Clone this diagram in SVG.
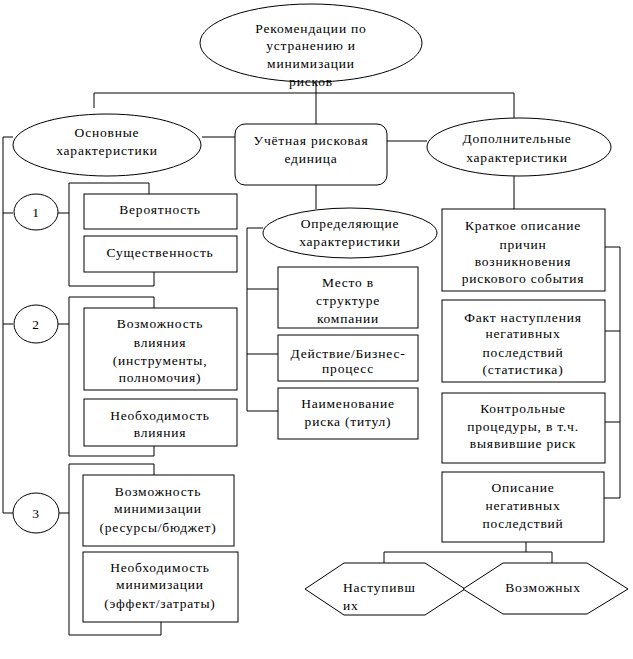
<svg xmlns="http://www.w3.org/2000/svg" width="633" height="659" viewBox="0 0 633 659">
<style>
.s{fill:#fff;stroke:#000;stroke-width:1}
.l{fill:none;stroke:#000;stroke-width:1}
text{font-family:"Liberation Serif","Times New Roman",serif;font-size:13.5px;fill:#000;text-anchor:middle;letter-spacing:0.8px}
.st{text-anchor:start}
</style>
<rect width="633" height="659" fill="#fff"/>
<g id="connectors">
<polyline class="l" points="94,108 94,93 514,93 514,118"/>
<line class="l" x1="316" y1="82" x2="316" y2="124"/>
<line class="l" x1="202" y1="137" x2="235" y2="137"/>
<line class="l" x1="387" y1="141" x2="427" y2="141"/>
<line class="l" x1="316" y1="185" x2="316" y2="209"/>
<line class="l" x1="514" y1="176" x2="514" y2="209"/>
<polyline class="l" points="13,137 3,137 3,513 13,513"/>
<line class="l" x1="3" y1="213" x2="13" y2="213"/>
<line class="l" x1="3" y1="324" x2="13" y2="324"/>
<line class="l" x1="58" y1="213" x2="69" y2="213"/>
<line class="l" x1="58" y1="324" x2="69" y2="324"/>
<line class="l" x1="59" y1="513" x2="69" y2="513"/>
<polyline class="l" points="149,194 149,183 69,183 69,286 154,286 154,272"/>
<polyline class="l" points="154,308 154,297 69,297 69,456 154,456 154,446"/>
<polyline class="l" points="154,475 154,464 69,464 69,635 161,635 161,622"/>
<polyline class="l" points="263,228 247,228 247,411 278,411"/>
<line class="l" x1="247" y1="289" x2="278" y2="289"/>
<line class="l" x1="247" y1="354" x2="278" y2="354"/>
<polyline class="l" points="605,247 620,247 620,498 604,498"/>
<line class="l" x1="605" y1="331" x2="620" y2="331"/>
<line class="l" x1="605" y1="422" x2="620" y2="422"/>
<line class="l" x1="526" y1="542" x2="526" y2="552"/>
<polyline class="l" points="384,563 384,552 552,552 552,563"/>
</g>
<g id="n-top">
<ellipse class="s" cx="311" cy="43" rx="111" ry="39"/>
<text x="311" y="33">Рекомендации по</text>
<text x="311" y="50">устранению и</text>
<text x="311" y="68">минимизации</text>
<text x="311" y="86">рисков</text>
</g>
<g id="n-basic">
<ellipse class="s" cx="107" cy="145" rx="94" ry="31"/>
<text x="107" y="137">Основные</text>
<text x="107" y="155">характеристики</text>
</g>
<g id="n-unit">
<rect class="s" x="235" y="124" width="152" height="61" rx="10"/>
<text x="311" y="145">Учётная рисковая</text>
<text x="311" y="163">единица</text>
</g>
<g id="n-extra">
<ellipse class="s" cx="519" cy="147" rx="92" ry="29"/>
<text x="517" y="143">Дополнительные</text>
<text x="517" y="162">характеристики</text>
</g>
<g id="c1">
<ellipse class="s" cx="36" cy="212" rx="22" ry="18"/>
<text x="36" y="217">1</text>
</g>
<g id="c2">
<ellipse class="s" cx="36" cy="324" rx="22" ry="19"/>
<text x="36" y="329">2</text>
</g>
<g id="c3">
<ellipse class="s" cx="36" cy="513" rx="23" ry="20"/>
<text x="36" y="518">3</text>
</g>
<g id="b-prob">
<rect class="s" x="84" y="194" width="153" height="35"/>
<text x="160" y="214">Вероятность</text>
</g>
<g id="b-sig">
<rect class="s" x="84" y="236" width="153" height="36"/>
<text x="160" y="257">Существенность</text>
</g>
<g id="b-infl">
<rect class="s" x="84" y="308" width="153" height="82"/>
<text x="160" y="328">Возможность</text>
<text x="160" y="347">влияния</text>
<text x="160" y="365">(инструменты,</text>
<text x="160" y="382">полномочия)</text>
</g>
<g id="b-need">
<rect class="s" x="84" y="399" width="153" height="47"/>
<text x="160" y="420">Необходимость</text>
<text x="160" y="437">влияния</text>
</g>
<g id="b-min">
<rect class="s" x="83" y="475" width="151" height="71"/>
<text x="158" y="496">Возможность</text>
<text x="158" y="513">минимизации</text>
<text x="158" y="532">(ресурсы/бюджет)</text>
</g>
<g id="b-needmin">
<rect class="s" x="83" y="552" width="155" height="70"/>
<text x="160" y="572">Необходимость</text>
<text x="160" y="589">минимизации</text>
<text x="160" y="608">(эффект/затраты)</text>
</g>
<g id="n-def">
<ellipse class="s" cx="350" cy="233" rx="87" ry="25"/>
<text x="350" y="228">Определяющие</text>
<text x="350" y="246">характеристики</text>
</g>
<g id="b-place">
<rect class="s" x="278" y="267" width="140" height="61"/>
<text x="348" y="287">Место в</text>
<text x="348" y="305">структуре</text>
<text x="348" y="323">компании</text>
</g>
<g id="b-act">
<rect class="s" x="278" y="335" width="140" height="46"/>
<text x="348" y="358">Действие/Бизнес-</text>
<text x="348" y="373">процесс</text>
</g>
<g id="b-name">
<rect class="s" x="278" y="388" width="140" height="51"/>
<text x="348" y="408">Наименование</text>
<text x="348" y="426">риска (титул)</text>
</g>
<g id="b-cause">
<rect class="s" x="442" y="209" width="163" height="82"/>
<text x="523" y="230">Краткое описание</text>
<text x="523" y="249">причин</text>
<text x="523" y="266">возникновения</text>
<text x="523" y="283">рискового события</text>
</g>
<g id="b-fact">
<rect class="s" x="442" y="300" width="163" height="82"/>
<text x="523" y="322">Факт наступления</text>
<text x="523" y="338">негативных</text>
<text x="523" y="357">последствий</text>
<text x="523" y="374">(статистика)</text>
</g>
<g id="b-ctrl">
<rect class="s" x="442" y="393" width="163" height="70"/>
<text x="523" y="413">Контрольные</text>
<text x="523" y="431">процедуры, в т.ч.</text>
<text x="523" y="448">выявившие риск</text>
</g>
<g id="b-desc">
<rect class="s" x="442" y="472" width="162" height="70"/>
<text x="523" y="492">Описание</text>
<text x="523" y="510">негативных</text>
<text x="523" y="528">последствий</text>
</g>
<g id="h-occ">
<polygon class="s" points="305,589 344,563 425,563 465,589 425,615 344,615"/>
<text class="st" x="343" y="592">Наступивш</text>
<text class="st" x="343" y="610">их</text>
</g>
<g id="h-pos">
<polygon class="s" points="463,589 503,563 587,563 628,589 587,614 503,614"/>
<text x="543" y="592">Возможных</text>
</g>
</svg>
